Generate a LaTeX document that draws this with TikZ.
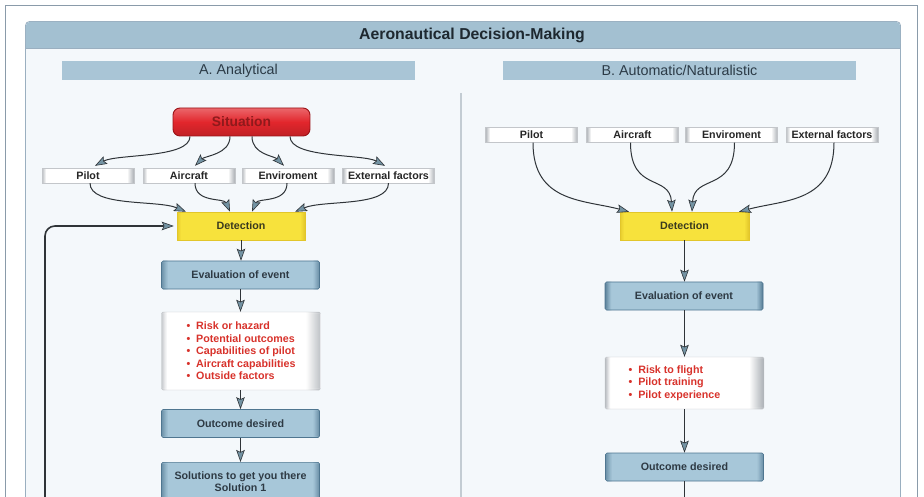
\documentclass[tikz,border=0pt]{standalone}
\usepackage{fontspec}
\setmainfont{Liberation Sans}
\usetikzlibrary{arrows.meta,calc}
\definecolor{outerb}{HTML}{8A9BAA}
\definecolor{panelb}{HTML}{9AAFC0}
\definecolor{panelf}{HTML}{F4F8FB}
\definecolor{headc}{HTML}{A3C0D1}
\definecolor{subc}{HTML}{A9C5D6}
\definecolor{titlec}{HTML}{1E2830}
\definecolor{subtc}{HTML}{2C3B47}
\definecolor{labc}{HTML}{2E3A44}
\definecolor{evalf}{HTML}{A7C7D9}
\definecolor{evalb}{HTML}{4F7690}
\definecolor{redt}{HTML}{D8322B}
\definecolor{sitf}{HTML}{E2262C}
\definecolor{sitb}{HTML}{9A1216}
\definecolor{sitt}{HTML}{8E1A1C}
\definecolor{detf}{HTML}{F7E23C}
\definecolor{detb}{HTML}{E2C62A}
\definecolor{dett}{HTML}{3A3A1E}
\definecolor{linec}{HTML}{2F3438}
\definecolor{tipf}{HTML}{7393A3}
\definecolor{divc}{HTML}{C3CCD3}
\definecolor{edgeg}{HTML}{A9AEB3}
\tikzset{
  edgeshade/.style n args={4}{path picture={
    \foreach \i in {1,...,#3}{
      \pgfmathtruncatemacro\pp{100*(#3-\i+1)/(#3+1)}
      \fill[#1!\pp!#2] ([xshift=\i pt-1pt]path picture bounding box.south west) rectangle ([xshift=\i pt]path picture bounding box.north west);
    }
    \foreach \i in {1,...,#4}{
      \pgfmathtruncatemacro\pp{100*(#4-\i+1)/(#4+1)}
      \fill[#1!\pp!#2] ([xshift=-\i pt+1pt]path picture bounding box.south east) rectangle ([xshift=-\i pt]path picture bounding box.north east);
    }
  }},
  lbl/.style={font=\fontsize{10.7}{12.5}\selectfont\bfseries, text=labc, inner sep=0pt},
  evalbox/.style={lbl, minimum width=158pt, minimum height=28pt, fill=evalf, draw=evalb, line width=0.6pt, rounded corners=1.5pt, edgeshade={evalb}{evalf}{6}{6}},
  factbox/.style={lbl, text=black!85, minimum width=92pt, minimum height=15pt, fill=white, draw=edgeg!70, line width=0.4pt, edgeshade={edgeg}{white}{4}{6}},
  detbox/.style={lbl, text=dett, minimum width=128pt, minimum height=28pt, fill=detf, draw=detb, line width=0.5pt, edgeshade={detb}{detf}{4}{4}},
  bulbox/.style={font=\fontsize{10.7}{12.5}\selectfont\bfseries, text=redt, align=left, inner sep=0pt, minimum width=159pt, fill=white, draw=edgeg!70, line width=0.4pt, rounded corners=1.5pt, edgeshade={edgeg}{white}{5}{14}},
  tipstyle/.style={-{Stealth[length=12pt,width=8.5pt,inset=2pt,fill=tipf,line width=0.6pt]}},
  arr/.style={draw=linec, line width=1pt, tipstyle},
}
\begin{document}
\begin{tikzpicture}[x=1pt,y=-1pt]
\useasboundingbox (0,0) rectangle (924,497);
\clip (0,0) rectangle (924,497);
\fill[white] (0,0) rectangle (924,497);
% outer frame
\draw[outerb, line width=1pt] (5.5,520) -- (5.5,5.5) -- (917.5,5.5) -- (917.5,520);
% panel
\filldraw[fill=panelf, draw=panelb, line width=0.8pt, rounded corners=4pt] (25.5,21.5) rectangle (900.5,540);
\fill[headc, rounded corners=4pt] (25.9,21.9) rectangle (900.1,48);
\fill[headc] (25.9,36) rectangle (900.1,48);
\draw[panelb, line width=0.5pt] (25.9,48) -- (900.1,48);
\node[font=\fontsize{15.8}{18}\selectfont\bfseries, text=titlec] (title) at (472,35) {Aeronautical Decision-Making};
% sub headers
\node[fill=subc, minimum width=353pt, minimum height=19pt, inner sep=0pt, font=\fontsize{14.3}{16}\selectfont, text=subtc] (subA) at (238.5,70.5) {A. Analytical};
\node[fill=subc, minimum width=353pt, minimum height=19pt, inner sep=0pt, font=\fontsize{14.3}{16}\selectfont, text=subtc] (subB) at (679.5,70.5) {B. Automatic/Naturalistic};
% divider
\coordinate (divtop) at (461,93);
\coordinate (divbot) at (461,520);
\draw[divc, line width=1.3pt] (divtop) -- (divbot);

% ---------- left: analytical
\node[minimum width=137pt, minimum height=28pt, inner sep=0pt, draw=sitb, line width=0.9pt, rounded corners=7pt, font=\fontsize{13.8}{16}\selectfont\bfseries, text=sitt, top color=sitf!70!white, bottom color=sitf!85!black, middle color=sitf] (sit) at (241.5,122) {Situation};
\node[factbox] (pilotL) at (88,175.5) {Pilot};
\node[factbox] (airL) at (189,175.5) {Aircraft};
\node[factbox] (envL) at (288,175.5) {Enviroment};
\node[factbox] (extL) at (388.5,175.5) {External factors};
\node[detbox] (detL) at (241,226) {Detection};
\node[evalbox] (evalL) at (240.5,275) {Evaluation of event};
\node[bulbox, minimum height=78pt] (bulL) at (241,351) {\textbullet\ \ Risk or hazard\\\textbullet\ \ Potential outcomes\\\textbullet\ \ Capabilities of pilot\\\textbullet\ \ Aircraft capabilities\\\textbullet\ \ Outside factors\hspace*{4pt}};
\node[evalbox] (outL) at (240.5,423.5) {Outcome desired};
\node[evalbox, anchor=north, align=center, inner ysep=9pt, minimum height=60pt] (solL) at (240.5,462) {Solutions to get you there\\Solution 1\\[20pt]};

\draw[arr] ($(sit.south)+(-51.5,0)$) .. controls +(0,22) and +(22,-12) .. ($(pilotL.north)+(7,-2)$);
\draw[arr] ($(sit.south)+(-11.5,0)$) .. controls +(0,18) and +(10,-10) .. ($(airL.north)+(6,-2)$);
\draw[arr] ($(sit.south)+(10.5,0)$) .. controls +(0,18) and +(-10,-10) .. ($(envL.north)+(-4,-2)$);
\draw[arr] ($(sit.south)+(48.5,0)$) .. controls +(0,22) and +(-22,-12) .. ($(extL.north)+(-3.5,-2)$);

\draw[arr] ($(pilotL.south)+(2,0)$) .. controls +(0,24) and +(-28,-12) .. ($(detL.north)+(-55,0)$);
\draw[arr] ($(airL.south)+(6,0)$) .. controls +(0,20) and +(-6,-14) .. ($(detL.north)+(-11,0)$);
\draw[arr] ($(envL.south)+(-1,0)$) .. controls +(0,20) and +(6,-14) .. ($(detL.north)+(11,0)$);
\draw[arr] ($(extL.south)+(0,0)$) .. controls +(0,24) and +(28,-12) .. ($(detL.north)+(54,0)$);

\draw[arr] (detL.south) -- (detL.south |- evalL.north);
\draw[arr] (evalL.south) -- (evalL.south |- bulL.north);
\draw[arr] (evalL.south |- bulL.south) -- (outL.north);
\draw[arr] (outL.south) -- (solL.north);

\coordinate (fbstart) at (45,520);
\draw[draw=linec, line width=1.6pt, rounded corners=10pt, tipstyle, shorten >=3pt] (fbstart) |- (detL.west);

% ---------- right: automatic
\node[factbox] (pilotR) at (531.5,135) {Pilot};
\node[factbox] (airR) at (632.5,135) {Aircraft};
\node[factbox] (envR) at (731.5,135) {Enviroment};
\node[factbox] (extR) at (832,135) {External factors};
\node[detbox, minimum width=129pt] (detR) at (684.5,226) {Detection};
\node[evalbox] (evalR) at (684,296) {Evaluation of event};
\node[bulbox, minimum height=52pt] (bulR) at (684.5,383) {\textbullet\ \ Risk to flight\\\textbullet\ \ Pilot training\\\textbullet\ \ Pilot experience\hspace*{20pt}};
\node[evalbox] (outR) at (684.5,467) {Outcome desired};

\draw[arr] ($(pilotR.south)+(1.5,0)$) .. controls +(0,60) and +(-45,-12) .. ($(detR.north)+(-55.5,0)$);
\draw[arr] ($(airR.south)+(-2,0)$) .. controls +(0,50) and +(-2,-38) .. ($(detR.north)+(-12.5,0)$);
\draw[arr] ($(envR.south)+(3,0)$) .. controls +(0,50) and +(2,-38) .. ($(detR.north)+(7.5,0)$);
\draw[arr] ($(extR.south)+(2,0)$) .. controls +(0,60) and +(45,-12) .. ($(detR.north)+(54.5,0)$);

\draw[arr] (detR.south) -- (detR.south |- evalR.north);
\draw[arr] (detR.south |- evalR.south) -- (detR.south |- bulR.north);
\draw[arr] (detR.south |- bulR.south) -- (detR.south |- outR.north);
\coordinate (rend) at (684.5,520);
\draw[draw=linec, line width=1pt] (outR.south) -- (outR.south |- rend);
\end{tikzpicture}
\end{document}
